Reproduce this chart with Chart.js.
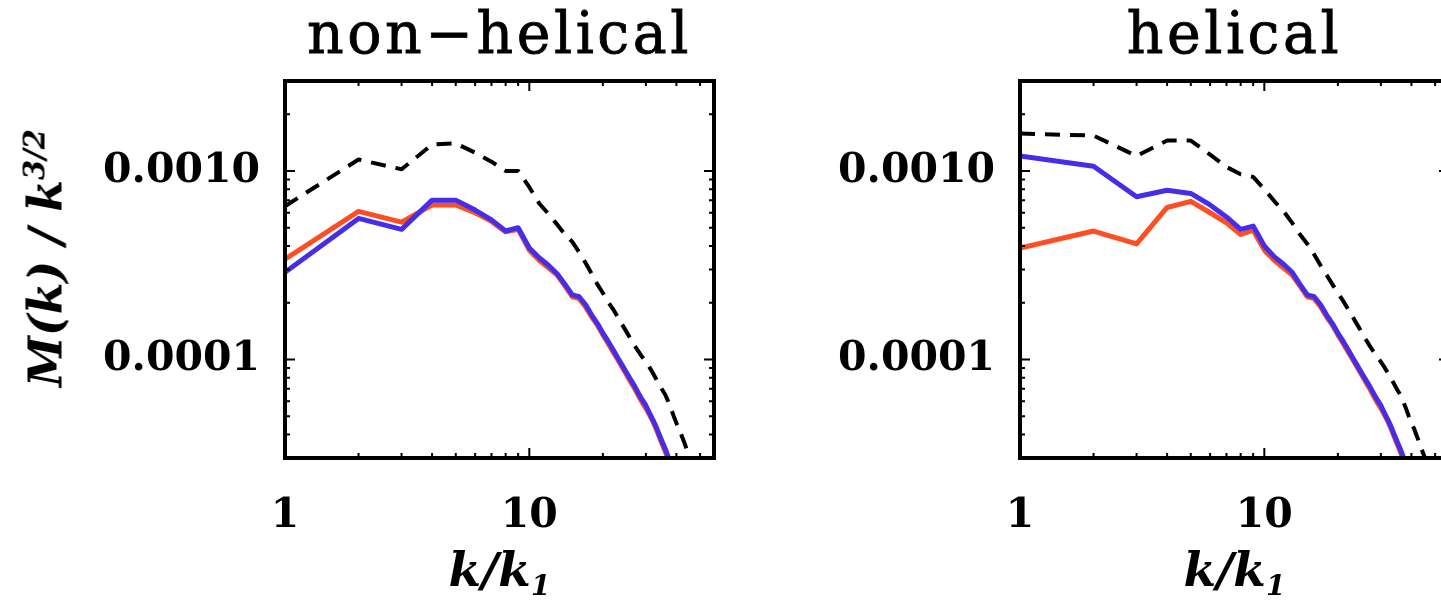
<!DOCTYPE html>
<html>
<head>
<meta charset="utf-8">
<script src="https://cdn.jsdelivr.net/npm/chart.js@4.4.1/dist/chart.umd.min.js"></script>
<style>
  html, body { margin: 0; padding: 0; background: #fff; width: 1441px; height: 605px; overflow: hidden; }
  .panel { position: absolute; top: 0; width: 740px; height: 605px; }
  .panel canvas { position: absolute; left: 0; top: 0; }
  .title { position: absolute; top: 5px; text-align: center; font: 57px 'DejaVu Serif', serif; line-height: 57px; letter-spacing: 3.5px; white-space: nowrap; color: #000; -webkit-text-stroke: 0.8px #000; }
  .xtitle { position: absolute; top: 546px; text-align: center; font: italic bold 47px 'DejaVu Serif', serif; line-height: 47px; white-space: nowrap; color: #000; }
  .xtitle sub { font-size: 28px; vertical-align: -9px; }
  .ytitle { position: absolute; left: 45px; top: 258px; transform: translate(-50%, -50%) rotate(-90deg); font: italic bold 46px 'DejaVu Serif', serif; white-space: nowrap; color: #000; }
  .ytitle sup { font-size: 29px; vertical-align: 17px; }
</style>
</head>
<body>
<div class="panel" style="left:0">
  <canvas id="nonhel" width="740" height="605"></canvas>
  <div class="title" style="left:285px;width:429px">non−helical</div>
  <div class="xtitle" style="left:285px;width:429px">k/k<sub>1</sub></div>
</div>
<div class="panel" style="left:735px">
  <canvas id="hel" width="740" height="605"></canvas>
  <div class="title" style="left:285px;width:429px">helical</div>
  <div class="xtitle" style="left:285px;width:429px">k/k<sub>1</sub></div>
</div>
<div class="ytitle">M(k) / k<sup>3/2</sup></div>

<script>
'use strict';

// wavenumbers k/k1
const K = [1, 2, 3, 4, 5, 6, 7, 8, 9, 10, 11, 12, 13, 14, 15, 16, 17, 18, 19, 20,
  21, 22, 23, 24, 25, 26, 27, 28, 29, 30, 31, 32, 33, 34, 35, 36, 37, 38, 39, 40,
  41, 42, 43, 44, 45, 46];

// non-helical run
const NH_TOTAL = [6.5e-4, 1.15e-3, 1.02e-3, 1.38e-3, 1.40e-3, 1.25e-3, 1.12e-3, 1.0e-3, 1.0e-3, 8.2e-4,
  6.7e-4, 5.9e-4, 5.2e-4, 4.6e-4, 4.2e-4, 3.7e-4, 3.25e-4, 2.85e-4, 2.5e-4, 2.25e-4,
  2.02e-4, 1.85e-4, 1.68e-4, 1.53e-4, 1.4e-4, 1.28e-4, 1.18e-4, 1.1e-4, 1.03e-4, 9.7e-5,
  9.1e-5, 8.5e-5, 7.9e-5, 7.4e-5, 6.9e-5, 6.5e-5, 6.0e-5, 5.5e-5, 5.0e-5, 4.6e-5,
  4.3e-5, 3.95e-5, 3.65e-5, 3.35e-5, 3.1e-5, 2.85e-5];
const NH_RED = [3.4e-4, 6.1e-4, 5.35e-4, 6.6e-4, 6.6e-4, 6.0e-4, 5.4e-4, 4.75e-4, 4.9e-4, 3.8e-4,
  3.35e-4, 3.05e-4, 2.8e-4, 2.45e-4, 2.15e-4, 2.1e-4, 1.9e-4, 1.68e-4, 1.52e-4, 1.35e-4,
  1.22e-4, 1.1e-4, 1.0e-4, 9.1e-5, 8.3e-5, 7.6e-5, 7.0e-5, 6.4e-5, 5.9e-5, 5.5e-5,
  5.1e-5, 4.7e-5, 4.3e-5, 3.9e-5, 3.55e-5, 3.25e-5, 2.95e-5, 2.7e-5];
const NH_BLUE = [2.9e-4, 5.6e-4, 4.9e-4, 7.0e-4, 7.0e-4, 6.2e-4, 5.5e-4, 4.8e-4, 5.0e-4, 3.9e-4,
  3.45e-4, 3.15e-4, 2.85e-4, 2.5e-4, 2.2e-4, 2.15e-4, 1.95e-4, 1.72e-4, 1.55e-4, 1.38e-4,
  1.25e-4, 1.13e-4, 1.02e-4, 9.3e-5, 8.5e-5, 7.8e-5, 7.2e-5, 6.6e-5, 6.1e-5, 5.7e-5,
  5.2e-5, 4.8e-5, 4.4e-5, 4.0e-5, 3.65e-5, 3.35e-5, 3.05e-5, 2.75e-5];

// helical run
const H_TOTAL = [1.58e-3, 1.54e-3, 1.2e-3, 1.45e-3, 1.45e-3, 1.22e-3, 1.05e-3, 9.6e-4, 9.3e-4, 8.0e-4,
  6.9e-4, 6.1e-4, 5.3e-4, 4.6e-4, 4.1e-4, 3.6e-4, 3.15e-4, 2.8e-4, 2.5e-4, 2.25e-4,
  2.05e-4, 1.85e-4, 1.68e-4, 1.53e-4, 1.4e-4, 1.28e-4, 1.18e-4, 1.1e-4, 1.03e-4, 9.7e-5,
  9.1e-5, 8.5e-5, 7.9e-5, 7.4e-5, 6.9e-5, 6.5e-5, 6.0e-5, 5.5e-5, 5.0e-5, 4.6e-5,
  4.3e-5, 3.95e-5, 3.65e-5, 3.35e-5, 3.1e-5, 2.85e-5];
const H_RED = [3.9e-4, 4.8e-4, 4.1e-4, 6.4e-4, 6.9e-4, 6.0e-4, 5.3e-4, 4.6e-4, 4.85e-4, 3.8e-4,
  3.35e-4, 3.05e-4, 2.8e-4, 2.45e-4, 2.15e-4, 2.1e-4, 1.9e-4, 1.68e-4, 1.52e-4, 1.35e-4,
  1.22e-4, 1.1e-4, 1.0e-4, 9.1e-5, 8.3e-5, 7.6e-5, 7.0e-5, 6.4e-5, 5.9e-5, 5.5e-5,
  5.1e-5, 4.7e-5, 4.3e-5, 3.9e-5, 3.55e-5, 3.25e-5, 2.95e-5, 2.7e-5];
const H_BLUE = [1.2e-3, 1.06e-3, 7.3e-4, 7.9e-4, 7.6e-4, 6.6e-4, 5.7e-4, 4.9e-4, 5.1e-4, 4.0e-4,
  3.5e-4, 3.2e-4, 2.9e-4, 2.5e-4, 2.2e-4, 2.15e-4, 1.95e-4, 1.72e-4, 1.55e-4, 1.38e-4,
  1.25e-4, 1.13e-4, 1.02e-4, 9.3e-5, 8.5e-5, 7.8e-5, 7.2e-5, 6.6e-5, 6.1e-5, 5.7e-5,
  5.2e-5, 4.8e-5, 4.4e-5, 4.0e-5, 3.65e-5, 3.35e-5, 3.05e-5, 2.75e-5];

// axes
const X_RANGE = [1, 57];
const Y_RANGE = [3e-5, 3e-3];
const X_LABELED = [1, 10];
const Y_LABELED = [1e-4, 1e-3];
const X_MINOR = [2, 3, 4, 5, 6, 7, 8, 9, 20, 30, 40, 50];
const Y_MINOR = [4e-5, 5e-5, 6e-5, 7e-5, 8e-5, 9e-5, 2e-4, 3e-4, 4e-4, 5e-4, 6e-4, 7e-4, 8e-4, 9e-4, 2e-3, 3e-3];

const RED = 'rgb(255,78,34)';
const BLUE = 'rgb(70,46,232)';
const TICK_FONT = { family: "'DejaVu Serif', serif", size: 41, weight: 'bold' };

// IDL-style box: frame plus inward ticks on all four sides
const boxAxes = {
  id: 'boxAxes',
  afterDatasetsDraw(chart) {
    const { ctx, chartArea: a, scales: { x, y } } = chart;
    ctx.save();
    ctx.strokeStyle = '#000';
    ctx.lineWidth = 2;
    ctx.beginPath();
    const xt = (v, len) => {
      const px = x.getPixelForValue(v);
      ctx.moveTo(px, a.bottom); ctx.lineTo(px, a.bottom - len);
      ctx.moveTo(px, a.top); ctx.lineTo(px, a.top + len);
    };
    const yt = (v, len) => {
      const py = y.getPixelForValue(v);
      ctx.moveTo(a.left, py); ctx.lineTo(a.left + len, py);
      ctx.moveTo(a.right, py); ctx.lineTo(a.right - len, py);
    };
    X_LABELED.forEach(v => xt(v, 10));
    X_MINOR.forEach(v => xt(v, 5));
    Y_LABELED.forEach(v => yt(v, 10));
    Y_MINOR.forEach(v => yt(v, 5));
    ctx.stroke();
    ctx.lineWidth = 4;
    ctx.strokeRect(a.left, a.top, a.right - a.left, a.bottom - a.top);
    ctx.restore();
  }
};

function series(vals) {
  return vals.map((v, i) => ({ x: K[i], y: v }));
}

function panel(id, total, red, blue) {
  const el = document.getElementById(id);
  return new Chart(el, {
    type: 'line',
    data: {
      datasets: [
        { data: series(total), borderColor: '#000', borderWidth: 4, borderDash: [15, 10], order: 2 },
        { data: series(red), borderColor: RED, borderWidth: 5, order: 1 },
        { data: series(blue), borderColor: BLUE, borderWidth: 5, order: 0 }
      ]
    },
    options: {
      responsive: false,
      animation: false,
      devicePixelRatio: 1,
      layout: { padding: { top: 81, right: 26, left: 0, bottom: 0 } },
      elements: { point: { radius: 0 }, line: { tension: 0, borderJoinStyle: 'round', borderCapStyle: 'butt' } },
      plugins: { legend: { display: false }, tooltip: { enabled: false }, title: { display: false } },
      scales: {
        x: {
          type: 'logarithmic', min: X_RANGE[0], max: X_RANGE[1],
          grid: { display: false, drawTicks: false }, border: { display: false },
          afterBuildTicks: s => { s.ticks = X_LABELED.map(v => ({ value: v })); },
          afterFit: s => { s.height = 147; },
          ticks: { color: '#000', font: TICK_FONT, padding: 34, maxRotation: 0, autoSkip: false, callback: v => String(v) }
        },
        y: {
          type: 'logarithmic', min: Y_RANGE[0], max: Y_RANGE[1],
          grid: { display: false, drawTicks: false }, border: { display: false },
          afterBuildTicks: s => { s.ticks = Y_LABELED.map(v => ({ value: v })); },
          afterFit: s => { s.width = 285; },
          ticks: { color: '#000', font: TICK_FONT, padding: 25, autoSkip: false, callback: v => v.toFixed(4) }
        }
      }
    },
    plugins: [boxAxes]
  });
}

panel('nonhel', NH_TOTAL, NH_RED, NH_BLUE);
panel('hel', H_TOTAL, H_RED, H_BLUE);
</script>
</body>
</html>
